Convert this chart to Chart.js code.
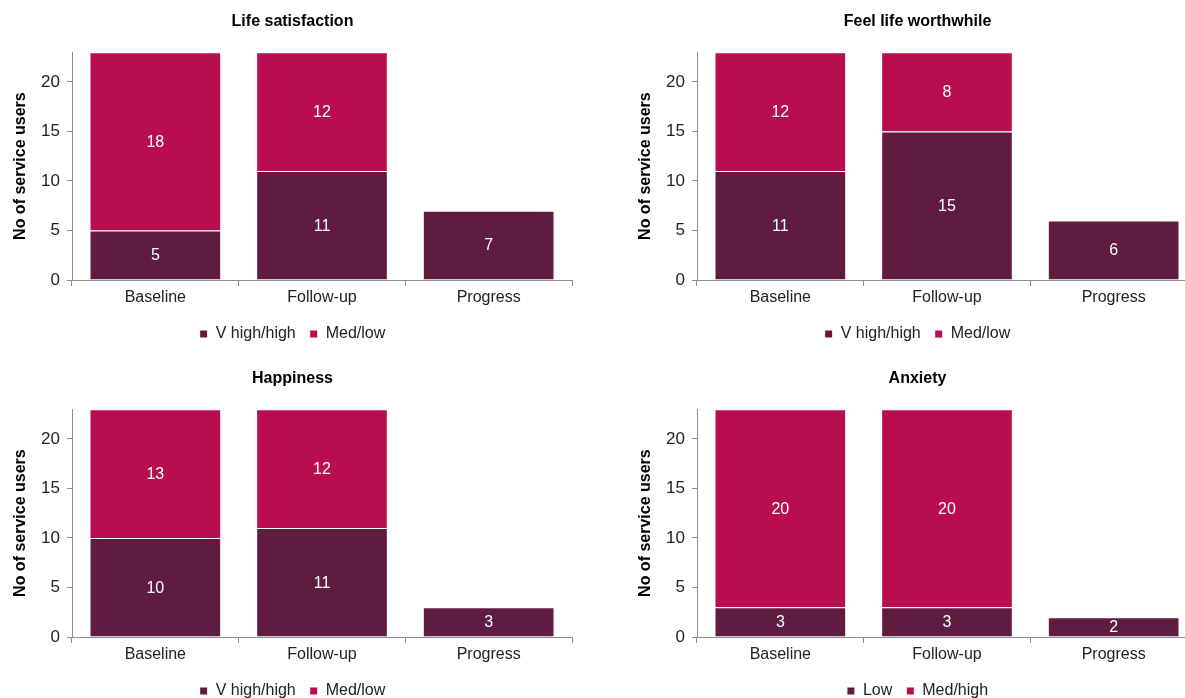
<!DOCTYPE html>
<html>
<head>
<meta charset="utf-8">
<script src="https://cdn.jsdelivr.net/npm/chart.js@4/dist/chart.umd.min.js"></script>
<style>
  html, body { margin: 0; padding: 0; background: #ffffff; overflow: hidden; }
  body { width: 1185px; height: 698px; position: relative; }
  .panel { position: absolute; width: 585px; height: 357px; }
  .panel canvas { display: block; }
</style>
</head>
<body>
<div class="panel" style="left:0;top:0"><canvas id="c1" width="585" height="357"></canvas></div>
<div class="panel" style="left:625px;top:0"><canvas id="c2" width="585" height="357"></canvas></div>
<div class="panel" style="left:0;top:357px"><canvas id="c3" width="585" height="357"></canvas></div>
<div class="panel" style="left:625px;top:357px"><canvas id="c4" width="585" height="357"></canvas></div>
<script>
// Categories shared by all four panels
const categories = ['Baseline', 'Follow-up', 'Progress'];
const yTickValues = [0, 5, 10, 15, 20];
const yMax = 23;

// Life satisfaction
const lifeSatHigh = [5, 11, 7];
const lifeSatLow = [18, 12, null];

// Feel life worthwhile
const worthwhileHigh = [11, 15, 6];
const worthwhileLow = [12, 8, null];

// Happiness
const happinessHigh = [10, 11, 3];
const happinessLow = [13, 12, null];

// Anxiety
const anxietyLow = [3, 3, 2];
const anxietyMedHigh = [20, 20, null];

const DARK = '#601B40';
const BRIGHT = '#B80E50';
const AXIS = '#8c8c8c';
const FONT = "'Liberation Sans', Arial, sans-serif";

// Writes each segment's value in the middle of its bar
const segmentLabels = {
  id: 'segmentLabels',
  afterDatasetsDraw(chart) {
    const ctx = chart.ctx;
    ctx.save();
    ctx.fillStyle = '#ffffff';
    ctx.font = '16px ' + FONT;
    ctx.textAlign = 'center';
    ctx.textBaseline = 'middle';
    chart.data.datasets.forEach((ds, i) => {
      const meta = chart.getDatasetMeta(i);
      if (meta.hidden) return;
      meta.data.forEach((el, j) => {
        const v = ds.data[j];
        if (v === null || v === undefined) return;
        const p = el.getProps(['x', 'y', 'base'], true);
        ctx.fillText(String(v), p.x, (p.y + p.base) / 2 + 1);
      });
    });
    ctx.restore();
  }
};

function makeChart(id, title, labelA, dataA, labelB, dataB) {
  return new Chart(document.getElementById(id), {
    type: 'bar',
    data: {
      labels: categories,
      datasets: [
        { label: labelA, data: dataA, backgroundColor: DARK, borderColor: '#ffffff', borderWidth: 1 },
        { label: labelB, data: dataB, backgroundColor: BRIGHT, borderColor: '#ffffff', borderWidth: 1 }
      ]
    },
    options: {
      responsive: false,
      animation: false,
      devicePixelRatio: 1,
      layout: { padding: { left: 13, right: 13, top: 0, bottom: 5 } },
      datasets: { bar: { categoryPercentage: 1.0, barPercentage: 0.79 } },
      plugins: {
        title: {
          display: true,
          text: title,
          color: '#000000',
          font: { family: FONT, size: 16, weight: 'bold' },
          padding: { top: 12, bottom: 21 }
        },
        legend: {
          position: 'bottom',
          labels: {
            color: '#222222',
            font: { family: FONT, size: 16 },
            boxWidth: 8,
            boxHeight: 8,
            padding: 14
          }
        },
        tooltip: { enabled: false }
      },
      scales: {
        x: {
          stacked: true,
          grid: { display: true, drawOnChartArea: false, drawTicks: true, tickLength: 6, color: AXIS, offset: true },
          border: { display: true, color: AXIS },
          ticks: { color: '#222222', font: { family: FONT, size: 16 }, padding: 2, maxRotation: 0 },
          afterFit(scale) { scale.height = 32; }
        },
        y: {
          stacked: true,
          min: 0,
          max: yMax,
          grid: { display: true, drawOnChartArea: false, drawTicks: true, tickLength: 5, color: AXIS },
          border: { display: true, color: AXIS },
          ticks: { color: '#222222', font: { family: FONT, size: 17 }, padding: 7, stepSize: 5 },
          afterBuildTicks(scale) { scale.ticks = yTickValues.map(v => ({ value: v })); },
          title: {
            display: true,
            text: 'No of service users',
            color: '#000000',
            font: { family: FONT, size: 16, weight: 'bold' },
            padding: { top: -2, bottom: 0 }
          },
          afterFit(scale) { scale.width = 59; }
        }
      }
    },
    plugins: [segmentLabels]
  });
}

makeChart('c1', 'Life satisfaction', 'V high/high', lifeSatHigh, 'Med/low', lifeSatLow);
makeChart('c2', 'Feel life worthwhile', 'V high/high', worthwhileHigh, 'Med/low', worthwhileLow);
makeChart('c3', 'Happiness', 'V high/high', happinessHigh, 'Med/low', happinessLow);
makeChart('c4', 'Anxiety', 'Low', anxietyLow, 'Med/high', anxietyMedHigh);
</script>
</body>
</html>
